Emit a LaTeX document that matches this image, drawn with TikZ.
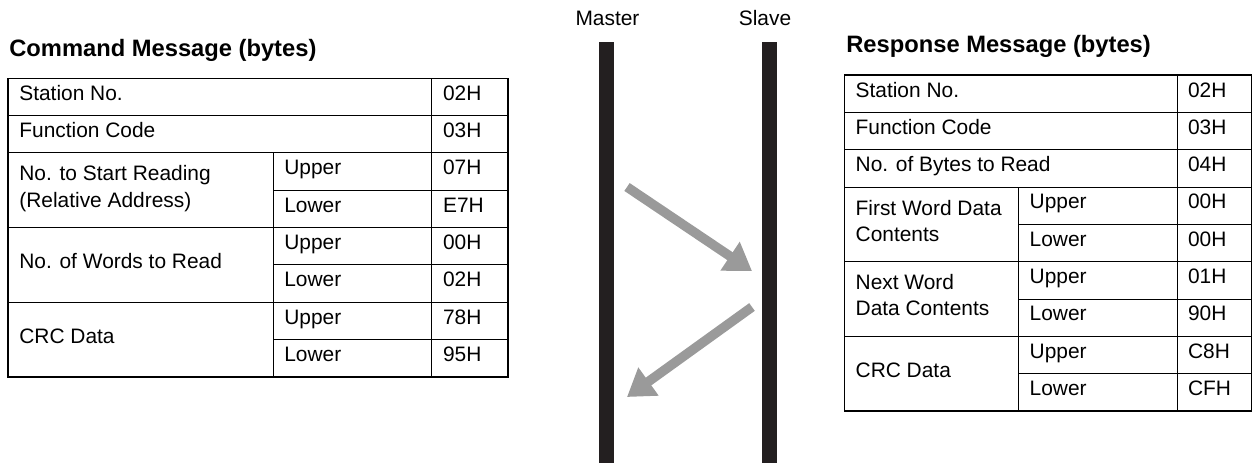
\documentclass[tikz,border=0pt]{standalone}
\usepackage{fontspec}
\setmainfont{Liberation Sans}
\usetikzlibrary{arrows.meta}

\definecolor{barblack}{HTML}{231F20}
\definecolor{arrowgray}{HTML}{9A9A9A}

\newcommand{\bodyfont}{\fontsize{11.9}{14.8}\selectfont}
\newcommand{\titlefont}{\fontsize{13.5}{16}\selectfont\bfseries}

\tikzset{
  cell/.style={anchor=base west, inner sep=0pt, font=\bodyfont, align=left},
  heading/.style={anchor=base west, inner sep=0pt, font=\titlefont},
  lifeline/.style={anchor=base, inner sep=0pt, font=\bodyfont},
  outer/.style={line width=0.9pt},
  inner/.style={line width=0.55pt},
  msg/.style={draw=arrowgray, line width=0.19cm, -{Triangle[length=0.53cm,width=0.66cm]}}
}

\begin{document}
\begin{tikzpicture}[x=0.02cm,y=-0.02cm]
\useasboundingbox (0,0) rectangle (1254,463);

\node[heading] (cmd-title) at (9,56.7) {Command Message (bytes)};
\begin{scope}[shift={(8,78.3)}]
  \foreach \r in {1,2,4,6} \draw[inner] (0,\r*37.33) -- (500,\r*37.33);
  \foreach \r in {3,5,7} \draw[inner] (265.3,\r*37.33) -- (500,\r*37.33);
  \draw[inner] (265.3,74.67) -- (265.3,298.7);
  \draw[inner] (423.7,0) -- (423.7,298.7);
  \draw[outer] (0,0) rectangle (500,298.7);
  \node[cell] (cmd-station) at (11,22) {Station No.};
  \node[cell] (cmd-func) at (11,59.3) {Function Code};
  \node[cell] (cmd-start) at (11,128.7) {No. to Start Reading\\(Relative Address)};
  \node[cell] (cmd-words) at (11,190) {No. of Words to Read};
  \node[cell] (cmd-crc) at (11,264.7) {CRC Data};
  \foreach \r in {2,4,6} {
    \node[cell] (cmd-up\r) at (276,\r*37.33+22) {Upper};
    \node[cell] (cmd-lo\r) at (276,\r*37.33+59.33) {Lower};
  }
  \foreach \v [count=\i from 0] in {02H,03H,07H,E7H,00H,02H,78H,95H}
    \node[cell] (cmd-v\i) at (434.7,\i*37.33+22) {\v};
\end{scope}

\node[heading] (res-title) at (846,52.3) {Response Message (bytes)};
\begin{scope}[shift={(844.3,75)}]
  \foreach \r in {1,2,3,5,7} \draw[inner] (0,\r*37.33) -- (407.2,\r*37.33);
  \foreach \r in {4,6,8} \draw[inner] (174,\r*37.33) -- (407.2,\r*37.33);
  \draw[inner] (174,112) -- (174,336);
  \draw[inner] (333,0) -- (333,336);
  \draw[outer] (0,0) rectangle (407.2,336);
  \node[cell] (res-station) at (11,22) {Station No.};
  \node[cell] (res-func) at (11,59.3) {Function Code};
  \node[cell] (res-bytes) at (11,96.7) {No. of Bytes to Read};
  \node[cell] (res-first) at (11,166) {First Word Data\\Contents};
  \node[cell] (res-next) at (11,240.7) {Next Word\\Data Contents};
  \node[cell] (res-crc) at (11,302) {CRC Data};
  \foreach \r in {3,5,7} {
    \node[cell] (res-up\r) at (185,\r*37.33+22) {Upper};
    \node[cell] (res-lo\r) at (185,\r*37.33+59.33) {Lower};
  }
  \foreach \v [count=\i from 0] in {02H,03H,04H,00H,00H,01H,90H,C8H,CFH}
    \node[cell] (res-v\i) at (343.4,\i*37.33+22) {\v};
\end{scope}

\fill[barblack] (599,41.7) rectangle (614.3,463);
\fill[barblack] (761.7,41.7) rectangle (777.3,463);
\node[lifeline] (master) at (607.5,26) {Master};
\node[lifeline] (slave) at (765,26) {Slave};

\coordinate (req-from) at (627,187);
\coordinate (req-to) at (752,271);
\coordinate (res-from) at (752,307);
\coordinate (res-to) at (627,397);
\draw[msg] (req-from) -- (req-to);
\draw[msg] (res-from) -- (res-to);
\end{tikzpicture}
\end{document}
